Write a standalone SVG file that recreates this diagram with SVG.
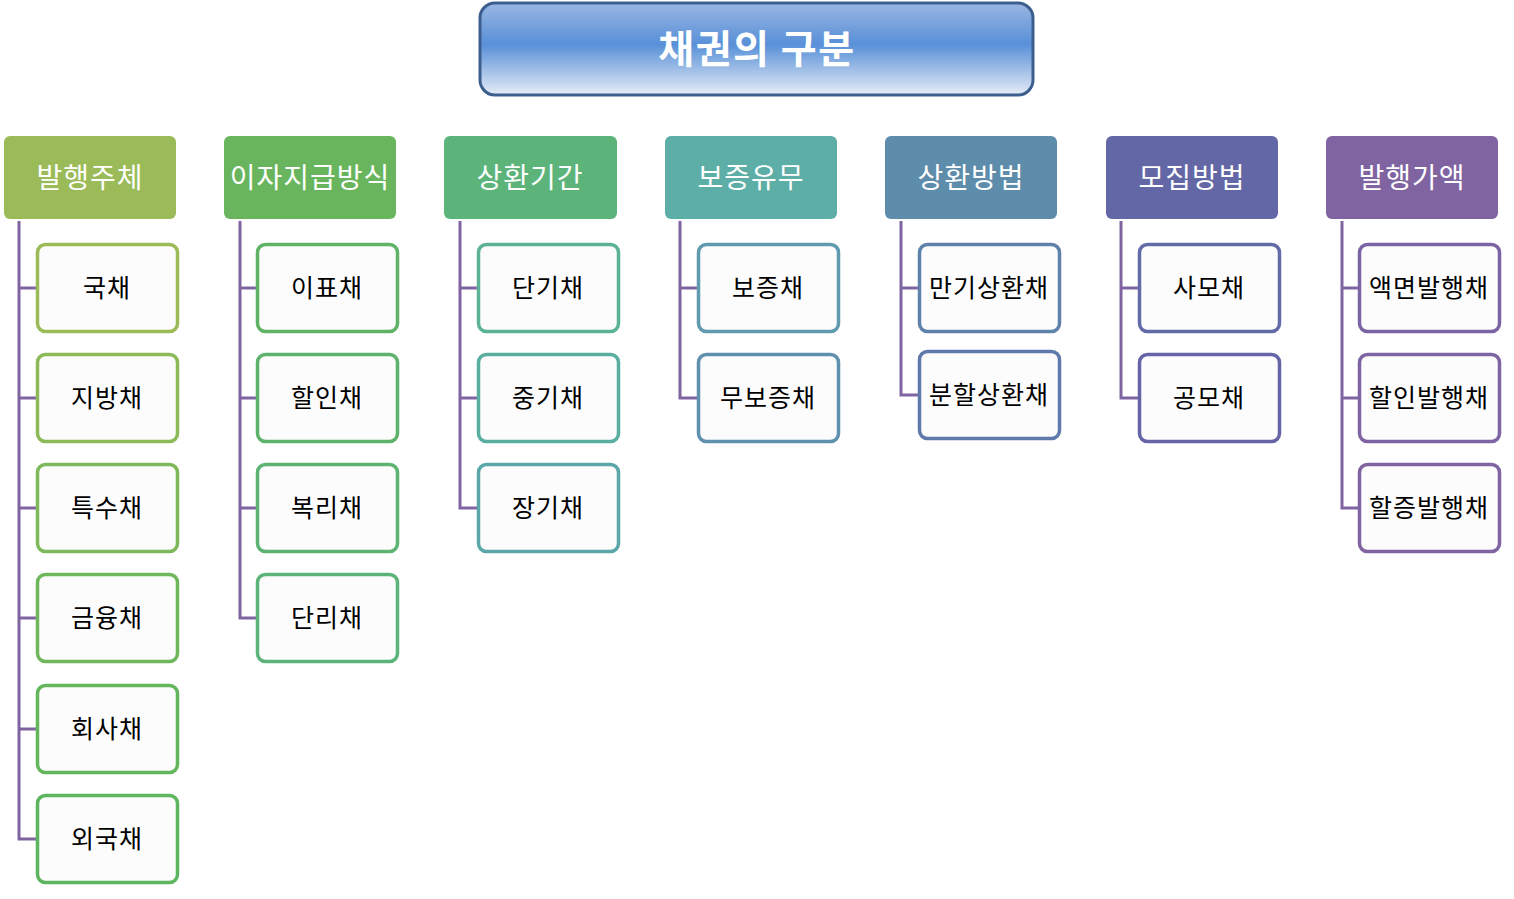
<svg xmlns="http://www.w3.org/2000/svg" width="1514" height="899" viewBox="0 0 1514 899">
<defs>
<linearGradient id="tg" x1="0" y1="0" x2="0" y2="1">
<stop offset="0" stop-color="#9ab6e2"/>
<stop offset="0.45" stop-color="#5890d8"/>
<stop offset="1" stop-color="#e6ecf6"/>
</linearGradient>
</defs>
<style>
.hd text{font-family:"Noto Sans CJK KR","Noto Sans",sans-serif;font-size:28px;fill:#fff;text-anchor:middle;letter-spacing:1px}
.ch rect{fill:#fcfcfc;stroke-width:3.5}
.ch text{font-family:"Noto Sans CJK KR","Noto Sans",sans-serif;font-size:25px;fill:#000;text-anchor:middle;letter-spacing:1px}
#connectors path{fill:none;stroke:#8064a2;stroke-width:3}
</style>
<rect width="1514" height="899" fill="#fff"/>
<g id="title">
<rect x="480" y="3" width="553" height="92" rx="15" fill="url(#tg)" stroke="#3c5e8e" stroke-width="3"/>
<text x="757" y="63" font-family="'Noto Sans CJK KR','Noto Sans',sans-serif" font-size="39" font-weight="bold" fill="#fff" text-anchor="middle" letter-spacing="1.5">채권의 구분</text>
</g>
<g id="connectors">
<path d="M19 221V839H37M19 288H37M19 398H37M19 508H37M19 618H37M19 729H37"/>
<path d="M240 221V618H257M240 288H257M240 398H257M240 508H257"/>
<path d="M460 221V508H478M460 288H478M460 398H478"/>
<path d="M680 221V398H698M680 288H698"/>
<path d="M901 221V395H919M901 288H919"/>
<path d="M1121 221V398H1139M1121 288H1139"/>
<path d="M1342 221V508H1359M1342 288H1359M1342 398H1359"/>
</g>
<g id="h1" class="hd"><rect x="4" y="136" width="172" height="83" rx="6" fill="#9bbb59"/><text x="90" y="188">발행주체</text></g>
<g id="h2" class="hd"><rect x="224" y="136" width="172" height="83" rx="6" fill="#69b55d"/><text x="310" y="188" letter-spacing="0">이자지급방식</text></g>
<g id="h3" class="hd"><rect x="444" y="136" width="173" height="83" rx="6" fill="#5cb47b"/><text x="530" y="188">상환기간</text></g>
<g id="h4" class="hd"><rect x="665" y="136" width="172" height="83" rx="6" fill="#5daea6"/><text x="751" y="188">보증유무</text></g>
<g id="h5" class="hd"><rect x="885" y="136" width="172" height="83" rx="6" fill="#5e8cab"/><text x="971" y="188">상환방법</text></g>
<g id="h6" class="hd"><rect x="1106" y="136" width="172" height="83" rx="6" fill="#6367a5"/><text x="1192" y="188">모집방법</text></g>
<g id="h7" class="hd"><rect x="1326" y="136" width="172" height="83" rx="6" fill="#8064a2"/><text x="1412" y="188">발행가액</text></g>

<g id="c1a" class="ch"><rect x="37.5" y="244.5" width="140" height="87" rx="8" stroke="#9bbb59"/><text x="107" y="297">국채</text></g>
<g id="c1b" class="ch"><rect x="37.5" y="354.5" width="140" height="87" rx="8" stroke="#8cba59"/><text x="107" y="407">지방채</text></g>
<g id="c1c" class="ch"><rect x="37.5" y="464.5" width="140" height="87" rx="8" stroke="#7db95a"/><text x="107" y="517">특수채</text></g>
<g id="c1d" class="ch"><rect x="37.5" y="574.5" width="140" height="87" rx="8" stroke="#6fb75b"/><text x="107" y="627">금융채</text></g>
<g id="c1e" class="ch"><rect x="37.5" y="685.5" width="140" height="87" rx="8" stroke="#64b65c"/><text x="107" y="738">회사채</text></g>
<g id="c1f" class="ch"><rect x="37.5" y="795.5" width="140" height="87" rx="8" stroke="#5db55f"/><text x="107" y="848">외국채</text></g>

<g id="c2a" class="ch"><rect x="257.5" y="244.5" width="140" height="87" rx="8" stroke="#60b366"/><text x="327" y="297">이표채</text></g>
<g id="c2b" class="ch"><rect x="257.5" y="354.5" width="140" height="87" rx="8" stroke="#5db36c"/><text x="327" y="407">할인채</text></g>
<g id="c2c" class="ch"><rect x="257.5" y="464.5" width="140" height="87" rx="8" stroke="#5cb372"/><text x="327" y="517">복리채</text></g>
<g id="c2d" class="ch"><rect x="257.5" y="574.5" width="140" height="87" rx="8" stroke="#5bb47a"/><text x="327" y="627">단리채</text></g>

<g id="c3a" class="ch"><rect x="478.5" y="244.5" width="140" height="87" rx="8" stroke="#5bb296"/><text x="548" y="297">단기채</text></g>
<g id="c3b" class="ch"><rect x="478.5" y="354.5" width="140" height="87" rx="8" stroke="#5aae9f"/><text x="548" y="407">중기채</text></g>
<g id="c3c" class="ch"><rect x="478.5" y="464.5" width="140" height="87" rx="8" stroke="#5aa6a9"/><text x="548" y="517">장기채</text></g>

<g id="c4a" class="ch"><rect x="698.5" y="244.5" width="140" height="87" rx="8" stroke="#5f9aae"/><text x="768" y="297">보증채</text></g>
<g id="c4b" class="ch"><rect x="698.5" y="354.5" width="140" height="87" rx="8" stroke="#5f90ae"/><text x="768" y="407">무보증채</text></g>

<g id="c5a" class="ch"><rect x="919.5" y="244.5" width="140" height="87" rx="8" stroke="#5f82ab"/><text x="989" y="297" letter-spacing="0">만기상환채</text></g>
<g id="c5b" class="ch"><rect x="919.5" y="351.5" width="140" height="87" rx="8" stroke="#5f7aaa"/><text x="989" y="404" letter-spacing="0">분할상환채</text></g>

<g id="c6a" class="ch"><rect x="1139.5" y="244.5" width="140" height="87" rx="8" stroke="#636aa8"/><text x="1209" y="297">사모채</text></g>
<g id="c6b" class="ch"><rect x="1139.5" y="354.5" width="140" height="87" rx="8" stroke="#6564a6"/><text x="1209" y="407">공모채</text></g>

<g id="c7a" class="ch"><rect x="1359.5" y="244.5" width="140" height="87" rx="8" stroke="#7a64a3"/><text x="1429" y="297" letter-spacing="0">액면발행채</text></g>
<g id="c7b" class="ch"><rect x="1359.5" y="354.5" width="140" height="87" rx="8" stroke="#7e64a2"/><text x="1429" y="407" letter-spacing="0">할인발행채</text></g>
<g id="c7c" class="ch"><rect x="1359.5" y="464.5" width="140" height="87" rx="8" stroke="#8064a2"/><text x="1429" y="517" letter-spacing="0">할증발행채</text></g>
</svg>
